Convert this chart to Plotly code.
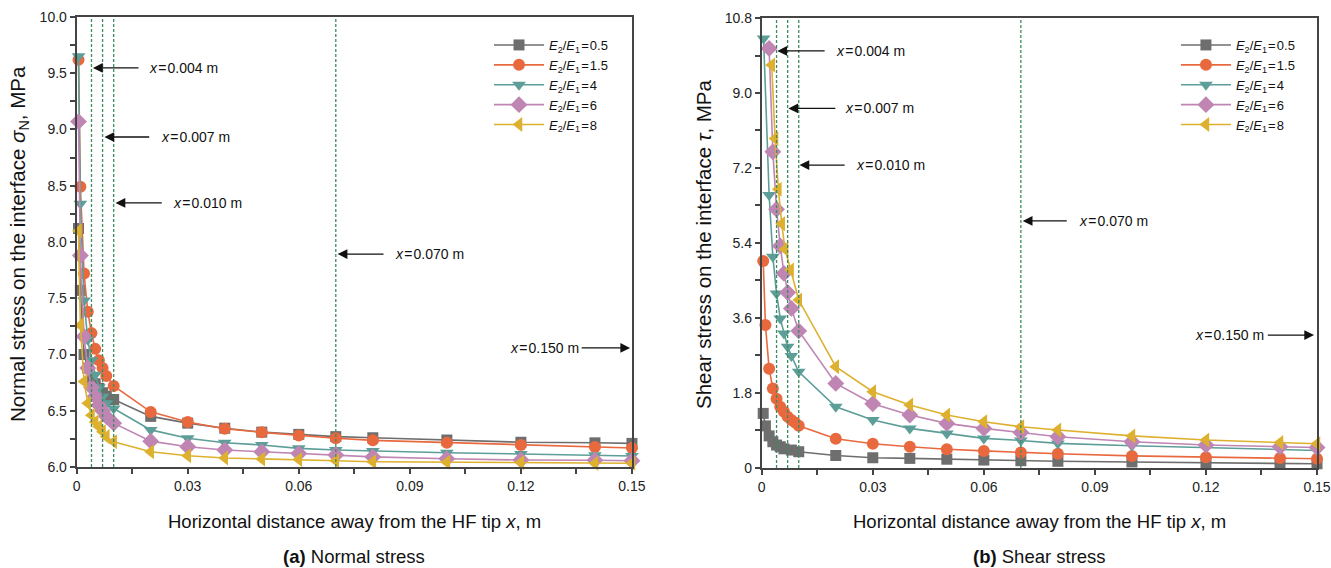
import plotly.graph_objects as go

# ---------------- data ----------------
RATIOS = ["0.5", "1.5", "4", "6", "8"]
COLORS = ["#6E6E6E", "#E9693F", "#5E9E98", "#BF85B3", "#DDB12F"]
SYMBOLS = ["square", "circle", "triangle-down", "diamond", "triangle-left"]
SIZES = [11, 12, 12, 13, 13]

# (a) normal stress
x_normal = [0.0005, 0.001, 0.002, 0.003, 0.004, 0.005, 0.006, 0.007, 0.008, 0.01,
            0.02, 0.03, 0.04, 0.05, 0.06, 0.07, 0.08, 0.1, 0.12, 0.14, 0.15]
sig_05 = [8.12, 7.57, 7.00, 6.88, 6.79, 6.74, 6.70, 6.66, 6.63, 6.60,
          6.45, 6.39, 6.345, 6.31, 6.29, 6.27, 6.26, 6.24, 6.22, 6.215, 6.21]
sig_15 = [9.62, 8.49, 7.72, 7.38, 7.19, 7.05, 6.95, 6.88, 6.81, 6.72,
          6.49, 6.40, 6.34, 6.308, 6.28, 6.255, 6.237, 6.216, 6.196, 6.178, 6.169]
sig_4 = [9.65, 8.34, 7.48, 7.13, 6.95, 6.82, 6.71, 6.625, 6.566, 6.52,
         6.33, 6.255, 6.216, 6.196, 6.166, 6.151, 6.142, 6.127, 6.116, 6.104, 6.098]
sig_6 = [9.07, 7.88, 7.16, 6.88, 6.71, 6.63, 6.55, 6.50, 6.45, 6.39,
         6.23, 6.18, 6.151, 6.135, 6.12, 6.107, 6.09, 6.074, 6.062, 6.060, 6.056]
sig_8 = [8.10, 7.26, 6.76, 6.566, 6.46, 6.40, 6.357, 6.314, 6.27, 6.225,
         6.136, 6.10, 6.08, 6.072, 6.066, 6.056, 6.047, 6.042, 6.039, 6.034, 6.033]

# (b) shear stress
x_far = [0.02, 0.03, 0.04, 0.05, 0.06, 0.07, 0.08, 0.1, 0.12, 0.14, 0.15]
xs_05 = [0.0004, 0.001, 0.002, 0.003, 0.004, 0.005, 0.006, 0.008, 0.01] + x_far
tau_05 = [1.31, 1.01, 0.77, 0.63, 0.55, 0.51, 0.46, 0.43, 0.39,
          0.30, 0.245, 0.23, 0.21, 0.19, 0.175, 0.16, 0.145, 0.13, 0.11, 0.10]
xs_15 = [0.0004, 0.001, 0.002, 0.003, 0.004, 0.005, 0.006, 0.007, 0.008, 0.009, 0.01] + x_far
tau_15 = [4.97, 3.43, 2.38, 1.91, 1.66, 1.47, 1.35, 1.23, 1.15, 1.09, 1.015,
          0.70, 0.58, 0.51, 0.45, 0.41, 0.37, 0.34, 0.29, 0.26, 0.24, 0.22]
xs_4 = [0.0005, 0.002, 0.003, 0.004, 0.005, 0.006, 0.007, 0.008, 0.01] + x_far
tau_4 = [10.31, 6.55, 5.07, 4.19, 3.59, 3.23, 2.91, 2.69, 2.31,
         1.47, 1.15, 0.95, 0.83, 0.71, 0.66, 0.59, 0.535, 0.49, 0.45, 0.42]
xs_6 = [0.002, 0.003, 0.004, 0.005, 0.006, 0.007, 0.008, 0.01] + x_far
tau_6 = [10.07, 7.59, 6.21, 5.33, 4.67, 4.21, 3.83, 3.29,
         2.03, 1.54, 1.27, 1.07, 0.95, 0.85, 0.75, 0.63, 0.55, 0.51, 0.49]
xs_8 = [0.0027, 0.0036, 0.0045, 0.0054, 0.0063, 0.0078, 0.01] + x_far
tau_8 = [9.67, 7.91, 6.69, 5.86, 5.25, 4.75, 4.03,
         2.43, 1.83, 1.51, 1.27, 1.11, 0.99, 0.91, 0.77, 0.67, 0.61, 0.58]

x_ticks = [0, 0.03, 0.06, 0.09, 0.12, 0.15]
x_ticktext = ["0", "0.03", "0.06", "0.09", "0.12", "0.15"]
yN_ticks = [6.0, 6.5, 7.0, 7.5, 8.0, 8.5, 9.0, 9.5, 10.0]
yN_ticktext = ["6.0", "6.5", "7.0", "7.5", "8.0", "8.5", "9.0", "9.5", "10.0"]
yT_ticks = [0, 1.8, 3.6, 5.4, 7.2, 9.0, 10.8]
yT_ticktext = ["0", "1.8", "3.6", "5.4", "7.2", "9.0", "10.8"]

marker_lines = [0.004, 0.007, 0.010, 0.070]
# (label, arrow head x, arrow tail x, text x, y) for each subplot
notes_a = [("0.004", 0.0044, 0.0171, 0.0190, 9.547),
           ("0.007", 0.0075, 0.0200, 0.0223, 8.933),
           ("0.010", 0.0105, 0.0234, 0.0255, 8.347),
           ("0.070", 0.0705, 0.0833, 0.0855, 7.893),
           ("0.150", 0.1495, 0.1360, 0.1166, 7.058)]
notes_b = [("0.004", 0.0042, 0.0174, 0.0196, 10.01),
           ("0.007", 0.0072, 0.0203, 0.0220, 8.63),
           ("0.010", 0.0102, 0.0228, 0.0248, 7.27),
           ("0.070", 0.0705, 0.0828, 0.0852, 5.93),
           ("0.150", 0.1492, 0.1363, 0.1166, 3.19)]

# ---------------- figure ----------------
FONT = "Arial, Liberation Sans, sans-serif"
fig = go.Figure()

normal_series = [sig_05, sig_15, sig_4, sig_6, sig_8]
shear_x = [xs_05, xs_15, xs_4, xs_6, xs_8]
shear_series = [tau_05, tau_15, tau_4, tau_6, tau_8]

def label(r):
    return "<i>E</i><sub>2</sub>/<i>E</i><sub>1</sub>\u200a=\u200a" + r

for i, r in enumerate(RATIOS):
    fig.add_trace(go.Scatter(
        x=x_normal, y=normal_series[i], mode="lines+markers", name=label(r),
        line=dict(color=COLORS[i], width=1.6),
        marker=dict(symbol=SYMBOLS[i], size=SIZES[i], color=COLORS[i]),
        cliponaxis=False, xaxis="x", yaxis="y", legend="legend"))
for i, r in enumerate(RATIOS):
    fig.add_trace(go.Scatter(
        x=shear_x[i], y=shear_series[i], mode="lines+markers", name=label(r),
        line=dict(color=COLORS[i], width=1.6),
        marker=dict(symbol=SYMBOLS[i], size=SIZES[i], color=COLORS[i]),
        cliponaxis=False, xaxis="x2", yaxis="y2", legend="legend2"))

axis_common = dict(showline=True, linecolor="#444444", linewidth=2, mirror=True,
                   ticks="outside", ticklen=5, tickwidth=1.5, tickcolor="#444444",
                   showgrid=False, zeroline=False, automargin=False,
                   tickfont=dict(family=FONT, size=14, color="#222"))

xa = dict(axis_common, range=[0, 0.15], tickmode="array", tickvals=x_ticks,
          ticktext=x_ticktext,
          minor=dict(ticks="outside", ticklen=5, tickwidth=1.5, tickcolor="#444444",
                     tick0=0, dtick=0.015))
fig.update_layout(
    template="none",
    xaxis=dict(xa, domain=[0.0576, 0.4748], anchor="y"),
    yaxis=dict(axis_common, domain=[0.1778, 0.9701], anchor="x", range=[6, 10],
               tickmode="array", tickvals=yN_ticks, ticktext=yN_ticktext,
               minor=dict(ticks="outside", ticklen=5, tickwidth=1.5, tickcolor="#444444",
                          tick0=6, dtick=0.25)),
    xaxis2=dict(xa, domain=[0.5723, 0.9895], anchor="y2"),
    yaxis2=dict(axis_common, domain=[0.1761, 0.9683], anchor="x2", range=[0, 10.8],
                tickmode="array", tickvals=yT_ticks, ticktext=yT_ticktext,
                minor=dict(ticks="outside", ticklen=5, tickwidth=1.5, tickcolor="#444444",
                           tick0=0, dtick=0.9)),
)

# dashed marker lines
shapes = []
for xr, yr in (("x", "y domain"), ("x2", "y2 domain")):
    for xv in marker_lines:
        shapes.append(dict(type="line", xref=xr, yref=yr, x0=xv, x1=xv, y0=0, y1=1,
                           line=dict(color="#3C8C5E", width=1.3, dash="3px,2px")))
fig.update_layout(shapes=shapes)

anns = []
for notes, xr, yr in ((notes_a, "x", "y"), (notes_b, "x2", "y2")):
    for lab, hx, tx, txt_x, yv in notes:
        anns.append(dict(x=hx, y=yv, ax=tx, ay=yv, xref=xr, yref=yr, axref=xr, ayref=yr,
                         text="", showarrow=True, arrowhead=2, arrowsize=1.5,
                         arrowwidth=1.3, arrowcolor="#111111", standoff=0))
        anns.append(dict(x=txt_x, y=yv, xref=xr, yref=yr, xanchor="left", yanchor="middle",
                         showarrow=False,
                         text="<i>x</i>\u200a=\u200a" + lab + " m",
                         font=dict(family=FONT, size=14, color="#111")))

xt_font = dict(family=FONT, size=18.5, color="#111")
yt_font = dict(family=FONT, size=20.5, color="#111")
anns += [
    dict(text="Horizontal distance away from the HF tip <i>x</i>, m", xref="paper", yref="paper",
         x=0.2663, y=0.081, xanchor="center", yanchor="middle", showarrow=False, font=xt_font),
    dict(text="Horizontal distance away from the HF tip <i>x</i>, m", xref="paper", yref="paper",
         x=0.7809, y=0.081, xanchor="center", yanchor="middle", showarrow=False, font=xt_font),
    dict(text="<b>(a)</b> Normal stress", xref="paper", yref="paper",
         x=0.2663, y=0.0194, xanchor="center", yanchor="middle", showarrow=False, font=xt_font),
    dict(text="<b>(b)</b> Shear stress", xref="paper", yref="paper",
         x=0.7809, y=0.0194, xanchor="center", yanchor="middle", showarrow=False, font=xt_font),
    dict(text="Normal stress on the interface <i>σ</i><sub>N</sub>, MPa", xref="paper", yref="paper",
         x=0.0143, y=0.5704, xanchor="center", yanchor="middle", textangle=-90, showarrow=False,
         font=yt_font),
    dict(text="Shear stress on the interface <i>τ</i>, MPa", xref="paper", yref="paper",
         x=0.5282, y=0.5704, xanchor="center", yanchor="middle", textangle=-90, showarrow=False,
         font=yt_font),
]
fig.update_layout(annotations=anns)

leg_common = dict(font=dict(family=FONT, size=13, color="#111"), bgcolor="rgba(0,0,0,0)",
                  borderwidth=0, itemwidth=50, tracegroupgap=0, xanchor="left",
                  yanchor="top", itemclick=False, itemdoubleclick=False)
fig.update_layout(
    legend=dict(leg_common, x=0.3674, y=0.9472),
    legend2=dict(leg_common, x=0.8835, y=0.9472),
    width=1331, height=568, margin=dict(l=0, r=0, t=0, b=0),
    plot_bgcolor="white", paper_bgcolor="white",
    font=dict(family=FONT, size=14, color="#111"),
)

fig.write_html("out.html",
               config={"displayModeBar": False},
               post_script="document.body.style.margin='0';"
                           "document.body.style.overflow='hidden';")
